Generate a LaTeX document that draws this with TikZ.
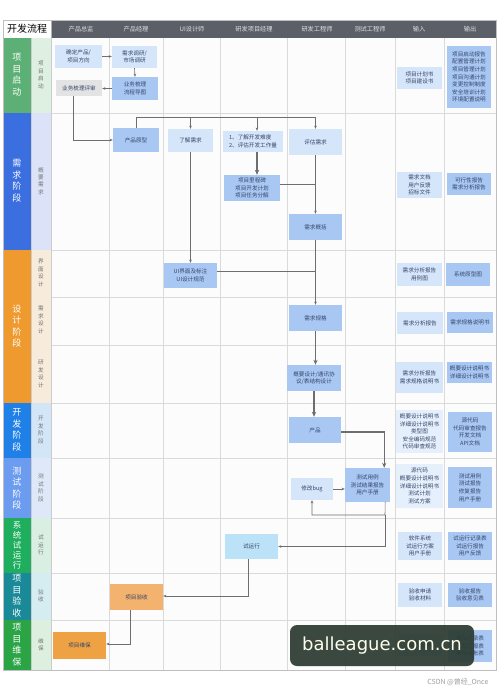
\documentclass[tikz,border=0pt]{standalone}
\usepackage{fontspec}
\setmainfont{Noto Sans CJK SC}
\newfontfamily\wmfont{DejaVu Sans}
\usetikzlibrary{arrows.meta,calc}
\definecolor{hdr}{HTML}{5B5F68}
\definecolor{gridc}{HTML}{DADADA}
\definecolor{lbc}{HTML}{D5E5FA}
\definecolor{vlbc}{HTML}{E6F0FC}
\definecolor{mbc}{HTML}{A9C7F3}
\definecolor{grc}{HTML}{E3E3E3}
\definecolor{cyc}{HTML}{BCE2F7}
\definecolor{or1}{HTML}{F3B36E}
\definecolor{or2}{HTML}{EFA244}
\definecolor{txt}{HTML}{34466A}
\definecolor{lnc}{HTML}{6E6E6E}
\definecolor{pa}{HTML}{5DB075}\definecolor{sa}{HTML}{DDF0E2}
\definecolor{pb}{HTML}{3B6FE0}\definecolor{sb}{HTML}{DCE3F8}
\definecolor{pc}{HTML}{EE9A2E}\definecolor{sc}{HTML}{F7EBDC}
\definecolor{pd}{HTML}{1F80E8}\definecolor{sd}{HTML}{D3E6F8}
\definecolor{pe}{HTML}{6C9CF0}\definecolor{se}{HTML}{DFE8F8}
\definecolor{pf}{HTML}{1EAE5E}\definecolor{sf}{HTML}{D8EFE2}
\definecolor{pg}{HTML}{1A8A98}\definecolor{sg}{HTML}{D5ECF0}
\definecolor{ph}{HTML}{2AA445}\definecolor{sh}{HTML}{DDF0DF}
\definecolor{wmbg}{HTML}{2C3B32}
\begin{document}
\begin{tikzpicture}[x=1pt,y=-1pt,
  box/.style={inner sep=0.5pt, align=center, font=\fontsize{5.6}{7.6}\selectfont, text=txt},
  lb/.style={box, fill=lbc},
  vlb/.style={box, fill=vlbc},
  mb/.style={box, fill=mbc},
  gb/.style={box, fill=grc},
  cb/.style={box, fill=cyc},
  ob/.style={box, fill=#1},
  sz/.style 2 args={minimum width=#1pt, minimum height=#2pt},
  ln/.style={draw=lnc, line width=0.6pt},
  arr/.style={ln, -{Stealth[length=3.2pt,width=2.6pt]}},
  tarr/.style={draw=lnc, line width=1.2pt, -{Stealth[length=5pt,width=4.2pt]}},
  hd/.style={font=\fontsize{6.2}{7}\selectfont, text=white!88!black},
  phl/.style={font=\fontsize{9}{11.5}\selectfont, text=white, align=center},
  sbl/.style={font=\fontsize{5.6}{7.4}\selectfont, text=black!55, align=center},
  gl/.style={draw=gridc, line width=0.8pt}
]
\path[use as bounding box, fill=white] (0,0) rectangle (500,692);
% main area background
\fill[white!98!gray] (51,38) rectangle (496,670);
% header
\fill[hdr] (51,20) rectangle (496,38);
\node[draw=gray!60, fill=white, minimum width=48pt, minimum height=18pt, font=\fontsize{10}{11}\selectfont] (title) at (27,29) {开发流程};
\node[hd] (h1) at (81,29) {产品总监};
\node[hd] (h2) at (136,29) {产品经理};
\node[hd] (h3) at (192,29) {UI设计师};
\node[hd] (h4) at (254,29) {研发项目经理};
\node[hd] (h5) at (317,29) {研发工程师};
\node[hd] (h6) at (370,29) {测试工程师};
\node[hd] (h7) at (419,29) {输入};
\node[hd] (h8) at (470,29) {输出};
% phase cells
\fill[pa] (3,38) rectangle (31,113);   \fill[sa] (31,38) rectangle (51,113);
\fill[pb] (3,113) rectangle (31,250);  \fill[sb] (31,113) rectangle (51,250);
\fill[pc] (3,250) rectangle (31,403);  \fill[sc] (31,250) rectangle (51,403);
\fill[pd] (3,403) rectangle (31,458);  \fill[sd] (31,403) rectangle (51,458);
\fill[pe] (3,458) rectangle (31,518);  \fill[se] (31,458) rectangle (51,518);
\fill[pf] (3,518) rectangle (31,573);  \fill[sf] (31,518) rectangle (51,573);
\fill[pg] (3,573) rectangle (31,620);  \fill[sg] (31,573) rectangle (51,620);
\fill[ph] (3,620) rectangle (31,670);  \fill[sh] (31,620) rectangle (51,670);
\node[phl] (p1) at (17,75) {项\\目\\启\\动};
\node[phl] (p2) at (17,181) {需\\求\\阶\\段};
\node[phl] (p3) at (17,326) {设\\计\\阶\\段};
\node[phl] (p4) at (17,430) {开\\发\\阶\\段};
\node[phl] (p5) at (17,488) {测\\试\\阶\\段};
\node[phl, font=\fontsize{8.5}{10}\selectfont] (p6) at (17,545) {系\\统\\试\\运\\行};
\node[phl] (p7) at (17,596) {项\\目\\验\\收};
\node[phl] (p8) at (17,645) {项\\目\\维\\保};
\node[sbl] (s1) at (41,75) {项\\目\\启\\动};
\node[sbl] (s2) at (41,181) {概\\要\\需\\求};
\node[sbl] (s3a) at (41,273) {界\\面\\设\\计};
\node[sbl] (s3b) at (41,320) {需\\求\\设\\计};
\node[sbl] (s3c) at (41,374) {研\\发\\设\\计};
\node[sbl] (s4) at (41,430) {开\\发\\阶\\段};
\node[sbl] (s5) at (41,488) {测\\试\\阶\\段};
\node[sbl] (s6) at (41,545) {试\\运\\行};
\node[sbl] (s7) at (41,596) {验\\收};
\node[sbl] (s8) at (41,645) {维\\保};
% grid
\foreach \xx in {109,163,220,287,345,395,444} \draw[gl] (\xx,38) -- (\xx,670);
\foreach \yy in {113,250,297,345,403,458,518,573,620} \draw[gl] (51,\yy) -- (496,\yy);
\draw[draw=gray!50, line width=0.6pt] (3,20) rectangle (496,670);
\draw[draw=gray!40, line width=0.5pt] (31,38) -- (31,670) (51,38) -- (51,670);
% ===== row 1
\node[lb, sz={47}{23}] (dir) at (78.5,56.5) {确定产品/\\项目方向};
\node[lb, sz={45}{22}] (res) at (134.5,57) {需求调研/\\市场调研};
\node[mb, sz={46}{23}] (biz) at (135,88.5) {业务梳理\\流程导图};
\node[gb, sz={46}{16}] (rev) at (79,88) {业务梳理评审};
\node[lb, sz={45}{22}] (in1) at (419.5,78) {项目计划书\\项目建设书};
\node[mb, sz={44}{62}] (out1) at (469,77) {项目启动报告\\配置管理计划\\项目管理计划\\项目沟通计划\\变更控制制度\\安全培训计划\\环境配置说明};
% ===== row 2
\node[mb, sz={46}{24}] (proto) at (136,140) {产品原型};
\node[lb, sz={45}{23}] (und) at (190.5,140.5) {了解需求};
\node[lb, sz={60}{21}, align=left] (dev1) at (253,141.5) {1、了解开发难度\\2、评估开发工作量};
\node[lb, sz={53}{26}] (eval) at (315.5,142) {评估需求};
\node[mb, sz={56}{26}] (mile) at (252,188) {项目里程碑\\项目开发计划\\项目任务分解};
\node[mb, sz={53}{26}] (summ) at (315.5,227) {需求概括};
\node[lb, sz={45}{26}] (in2) at (419.5,185) {需求文档\\用户反馈\\招标文件};
\node[mb, sz={44}{22}] (out2) at (469,184) {可行性报告\\需求分析报告};
% ===== row 3
\node[mb, sz={53}{25}] (ui) at (190.5,275.5) {UI界面及标注\\UI设计规范};
\node[mb, sz={53}{26}] (spec) at (315.5,318) {需求规格};
\node[mb, sz={54}{26}] (outl) at (314,378) {概要设计/通讯协\\议/表结构设计};
\node[lb, sz={45}{23}] (in3) at (419.5,274.5) {需求分析报告\\用例图};
\node[mb, sz={44}{23}] (out3) at (468,274.5) {系统原型图};
\node[lb, sz={46}{22}] (in4) at (420,323) {需求分析报告};
\node[mb, sz={46}{21}] (out4) at (470,322.5) {需求规格说明书};
\node[lb, sz={47}{31}] (in5) at (419.5,377.5) {需求分析报告\\需求规格说明书};
\node[mb, sz={45}{21}] (out5) at (469.5,372.5) {概要设计说明书\\详细设计说明书};
% ===== row 4
\node[mb, sz={52}{26}] (prod) at (315,430) {产品};
\node[vlb, sz={47}{43}] (in6) at (419.5,431.5) {概要设计说明书\\详细设计说明书\\类型图\\安全编码规范\\代码审查规范};
\node[mb, sz={44}{40}] (out6) at (470,432) {源代码\\代码审查报告\\开发文档\\API文档};
% ===== row 5
\node[mb, sz={45}{34}] (test) at (367.5,485) {测试用例\\测试结果报告\\用户手册};
\node[lb, sz={42}{22}] (bug) at (312,489) {修改bug};
\node[vlb, sz={47}{44}] (in7) at (419.5,486) {源代码\\概要设计说明书\\详细设计说明书\\测试计划\\测试方案};
\node[mb, sz={44}{41}] (out7) at (470,487.5) {测试用例\\测试报告\\修复报告\\用户手册};
% ===== row 6
\node[cb, sz={53}{25}] (trial) at (251.5,546.5) {试运行};
\node[lb, sz={44}{28}] (in8) at (420,546) {软件系统\\试运行方案\\用户手册};
\node[mb, sz={44}{28}] (out8) at (470,546) {试运行记录表\\试运行报告\\用户反馈};
% ===== row 7
\node[ob=or1, sz={53}{26}] (acc) at (136.5,597) {项目验收};
\node[lb, sz={44}{24}] (in9) at (420,595) {验收申请\\验收材料};
\node[mb, sz={44}{24}] (out9) at (470,595) {验收报告\\验收意见表};
% ===== row 8
\node[ob=or2, sz={53}{27}] (maint) at (79.5,645.5) {项目维保};
\node[lb, sz={44}{22}] (in10) at (420,645) {需求反馈};
\node[mb, sz={44}{32}] (out10) at (470,646) {维保记录表\\问题汇报表\\维保台账表};
% ===== connectors
\draw[arr] (dir.east) -- (dir.east -| res.west);
\draw[arr] (res.south) -- (biz.north);
\draw[arr] (biz.west) -- (biz.west -| rev.east);
\draw[arr] ([xshift=-6pt]rev.south) |- (proto.west);
\coordinate (jt) at (315.5,117);
\draw[ln] (proto.north) |- (jt);
\draw[arr] (jt) -- (eval.north);
\draw[arr] (und.north |- jt) -- (und.north);
\draw[arr] ([xshift=4pt]dev1.north |- jt) -- ([xshift=4pt]dev1.north);
\draw[tarr] ([xshift=4pt]dev1.south) -- ([xshift=4pt]dev1.south |- mile.north);
\draw[arr] (eval.south) -- (summ.north);
\draw[ln] ([yshift=4pt]mile.east) -- ([yshift=4pt]mile.east -| summ.north);
\draw[arr] (und.south) -- (ui.north);
\draw[arr] (summ.south) -- (spec.north);
\draw[ln] ([yshift=4pt]ui.east) -- ([yshift=4pt]ui.east -| spec.north);
\draw[tarr] (spec.south) -- (spec.south |- outl.north);
\draw[tarr] (outl.south) -- (outl.south |- prod.north);
\draw[tarr] ([yshift=-2pt]prod.east) -| ([xshift=-6pt]test.north east);
\draw[arr] (bug.east) -- (bug.east -| test.west);
\coordinate (lp) at (385,515);
\draw[arr] ([xshift=-5pt]test.south east) -- (lp) -| (bug.south);
\draw[arr] (lp) |- (trial.east);
\draw[arr] ([xshift=-3pt]trial.south) |- ([yshift=1pt]acc.east);
\draw[arr] ([xshift=-6pt]acc.south) |- ([yshift=1.5pt]maint.east);
% ===== watermark
\node[fill=wmbg, fill opacity=0.93, text opacity=1, rounded corners=7pt, minimum width=184pt, minimum height=41pt, text=white!92!yellow, font=\wmfont\fontsize{18}{20}\selectfont] (wm) at (382,645.5) {balleague.com.cn};
\node[anchor=east, text=black!38, font=\fontsize{7}{8}\selectfont] (csdn) at (492,682) {CSDN @曾经\_Once};
\end{tikzpicture}
\end{document}
